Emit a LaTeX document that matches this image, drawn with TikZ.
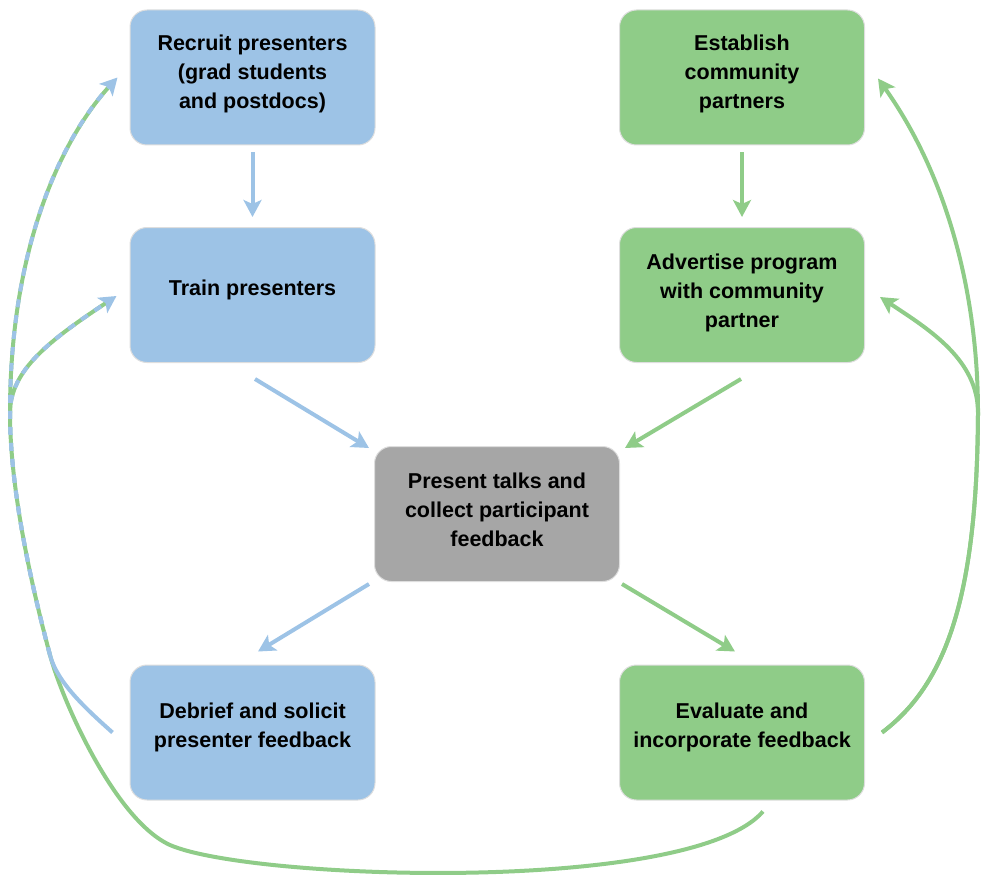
\documentclass[tikz,border=0pt]{standalone}
\usepackage{fontspec}
\setmainfont{Liberation Sans}
\usetikzlibrary{arrows.meta,calc}
\definecolor{bblue}{RGB}{157,195,230}
\definecolor{bgreen}{RGB}{143,204,136}
\definecolor{bgray}{RGB}{166,166,166}
\definecolor{bedge}{RGB}{222,222,222}
\begin{document}
\begin{tikzpicture}[x=1pt,y=-1pt,
 box/.style={draw=bedge, line width=1pt, rounded corners=17pt, minimum width=245pt, minimum height=135pt, inner sep=0pt},
 txt/.style={align=center, font=\fontsize{21.5}{29}\selectfont\bfseries, text=black, inner sep=0pt},
 conn/.style={line width=4pt, -{Stealth[length=17pt,width=18pt,inset=4pt]}},
 plain/.style={line width=4pt},
 dsh/.style={dash pattern=on 8pt off 8pt}
]
\useasboundingbox (0,0) rectangle (981,877);

% boxes
\node[box, fill=bblue] (recruit) at (252.5,77.5) {};
\node[box, fill=bgreen] (establish) at (742,77.5) {};
\node[box, fill=bblue] (train) at (252.5,295) {};
\node[box, fill=bgreen] (advertise) at (742,295) {};
\node[box, fill=bgray] (present) at (497,514) {};
\node[box, fill=bblue] (debrief) at (252.5,732.5) {};
\node[box, fill=bgreen] (evaluate) at (742,732.5) {};

% texts
\node[txt] (recruitT) at ($(recruit.center)+(0,-4)$) {Recruit presenters\\(grad students\\and postdocs)};
\node[txt] (establishT) at ($(establish.center)+(0,-4)$) {Establish\\community\\partners};
\node[txt] (trainT) at ($(train.center)+(0,-5)$) {Train presenters};
\node[txt] (advertiseT) at ($(advertise.center)+(0,-2)$) {Advertise program\\with community\\partner};
\node[txt] (presentT) at ($(present.center)+(0,-4)$) {Present talks and\\collect participant\\feedback};
\node[txt] (debriefT) at ($(debrief.center)+(0,-5)$) {Debrief and solicit\\presenter feedback};
\node[txt] (evaluateT) at ($(evaluate.center)+(0,-5)$) {Evaluate and\\incorporate feedback};

% straight connectors
\draw[conn, bblue, shorten <=7pt, shorten >=10pt] (recruit.south) -- (train.north);
\draw[conn, bgreen, shorten <=7pt, shorten >=10pt] (establish.south) -- (advertise.north);
\draw[conn, bblue] ($(train.south)+(2.5,16)$) -- ($(present.north west)+(-5,2)$);
\draw[conn, bgreen] ($(advertise.south)+(-1,16)$) -- ($(present.north east)+(5,2)$);
\draw[conn, bblue] ($(present.south west)+(-5,2)$) -- ($(debrief.north)+(5.5,-13)$);
\draw[conn, bgreen] ($(present.south east)+(2,2)$) -- ($(evaluate.north)+(-7,-13)$);

% coordinates for curved connectors
\coordinate (dL) at ($(debrief.west)+(-17,0)$);
\coordinate (eB) at ($(evaluate.south)+(21,11)$);
\coordinate (eR) at ($(evaluate.east)+(17,0)$);
\coordinate (rT) at ($(recruit.west)+(-12,0)$);
\coordinate (tT) at ($(train.west)+(-13,1)$);
\coordinate (sT) at ($(establish.east)+(13,1)$);
\coordinate (aT) at ($(advertise.east)+(15,2)$);
\coordinate (J) at (50,655);
\coordinate (BL) at (10,413);
\coordinate (BR) at (978,413);

% green loop from evaluate (bottom) to recruit and train
\draw[plain, bgreen, shorten >=10pt] (eB) .. controls (690,895) and (250,880) .. (170,845)
  .. controls (115,820) and (62,700) .. (J)
  .. controls (38,610) and (10,500) .. (BL)
  .. controls (10,250) and (60,140) .. (rT);
\draw[plain, bgreen, shorten >=10pt] (BL) .. controls (10,370) and (50,340) .. (tT);

% blue loop from debrief to recruit and train
\draw[plain, bblue] (dL) .. controls (85,708) and (57,682) .. (J);
\draw[conn, bblue, dsh] (J) .. controls (38,610) and (10,500) .. (BL)
  .. controls (10,250) and (60,140) .. (rT);
\draw[conn, bblue, dsh] (J) .. controls (38,610) and (10,500) .. (BL)
  .. controls (10,370) and (50,340) .. (tT);

% green loop from evaluate (right) to establish and advertise
\draw[conn, bgreen] (eR) .. controls (945,685) and (977,600) .. (BR)
  .. controls (978,300) and (950,180) .. (sT);
\draw[conn, bgreen] (eR) .. controls (945,685) and (977,600) .. (BR)
  .. controls (978,360) and (930,330) .. (aT);
\end{tikzpicture}
\end{document}
